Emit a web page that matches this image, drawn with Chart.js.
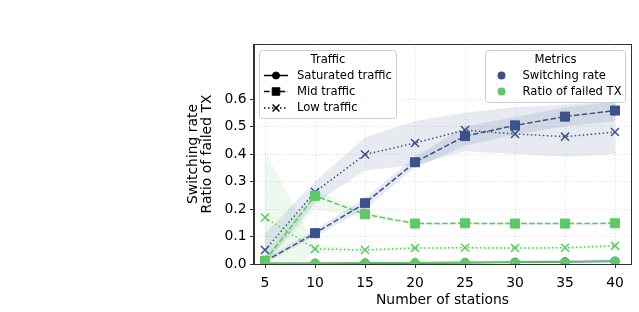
<!DOCTYPE html>
<html><head><meta charset="utf-8">
<script src="https://cdn.jsdelivr.net/npm/chart.js@4/dist/chart.umd.min.js"></script>
<style>html,body{margin:0;padding:0;background:#fff}#wrap{width:639px;height:312px;position:relative}</style>
</head><body><div id="wrap"><canvas id="c" width="639" height="312"></canvas></div>
<script>
// ---- data ----
const stations = [5, 10, 15, 20, 25, 30, 35, 40];
const xTicks = [5, 10, 15, 20, 25, 30, 35, 40];
const yTicks = [0.0, 0.1, 0.2, 0.3, 0.4, 0.5, 0.6];

// Switching rate (mean)
const satSwitch = [0.002, 0.002, 0.003, 0.004, 0.005, 0.006, 0.008, 0.010];
const midSwitch = [0.010, 0.112, 0.221, 0.370, 0.465, 0.504, 0.536, 0.558];
const lowSwitch = [0.051, 0.262, 0.398, 0.440, 0.487, 0.473, 0.463, 0.480];
// Switching rate (band low / high)
const satSwitchLo = [0.000, 0.000, 0.001, 0.002, 0.002, 0.003, 0.004, 0.005];
const satSwitchHi = [0.005, 0.006, 0.007, 0.009, 0.011, 0.013, 0.015, 0.017];
const midSwitchLo = [0.003, 0.100, 0.200, 0.350, 0.430, 0.470, 0.500, 0.520];
const midSwitchHi = [0.020, 0.125, 0.240, 0.390, 0.500, 0.535, 0.570, 0.590];
const lowSwitchLo = [0.000, 0.220, 0.340, 0.360, 0.410, 0.400, 0.390, 0.400];
const lowSwitchHi = [0.110, 0.300, 0.460, 0.520, 0.550, 0.570, 0.580, 0.590];

// Ratio of failed TX (mean)
const satFailed = [0.003, 0.003, 0.004, 0.005, 0.006, 0.006, 0.007, 0.010];
const midFailed = [0.012, 0.248, 0.181, 0.147, 0.148, 0.147, 0.147, 0.148];
const lowFailed = [0.169, 0.055, 0.051, 0.058, 0.059, 0.058, 0.059, 0.066];
// Ratio of failed TX (band low / high)
const satFailedLo = [0.001, 0.001, 0.002, 0.003, 0.004, 0.004, 0.005, 0.007];
const satFailedHi = [0.005, 0.005, 0.006, 0.007, 0.008, 0.008, 0.009, 0.013];
const midFailedLo = [0.000, 0.200, 0.170, 0.142, 0.143, 0.142, 0.142, 0.143];
const midFailedHi = [0.025, 0.270, 0.190, 0.152, 0.153, 0.152, 0.152, 0.153];
const lowFailedLo = [-0.080, 0.040, 0.045, 0.052, 0.053, 0.052, 0.053, 0.060];
const lowFailedHi = [0.410, 0.068, 0.057, 0.064, 0.065, 0.064, 0.065, 0.072];

const trafficNames = ['Saturated traffic', 'Mid traffic', 'Low traffic'];
const metricNames = ['Switching rate', 'Ratio of failed TX'];

// ---- styles ----
const BLUE = '#3b528b';
const GREEN = '#5ec962';
const BLUE_BAND = 'rgba(59,82,139,0.12)';
const GREEN_BAND = 'rgba(94,201,98,0.11)';
const FONT = 'DejaVu Sans';
const DASH = [5.5, 2.4];
const DOT = [1.5, 2.5];
const styles = [
  {dash: [], point: 'circle', r: 4.2, bw: 1},
  {dash: DASH, point: 'rect', r: 6.4, bw: 1},
  {dash: DOT, point: 'crossRot', r: 5.7, bw: 1.5}
];

const pts = arr => stations.map((x, i) => ({x, y: arr[i]}));

const datasets = [];
function addBand(lo, hi, color) {
  datasets.push({data: pts(lo), borderWidth: 0, pointRadius: 0, fill: false, order: 10, showLine: true, borderColor: 'rgba(0,0,0,0)'});
  datasets.push({data: pts(hi), borderWidth: 0, pointRadius: 0, fill: '-1', backgroundColor: color, order: 10, showLine: true, borderColor: 'rgba(0,0,0,0)'});
}
function addLine(arr, color, st, order) {
  datasets.push({
    data: pts(arr), borderColor: color, backgroundColor: color, borderWidth: 1.5,
    borderDash: st.dash, pointStyle: st.point, pointRadius: st.r,
    pointBorderWidth: st.bw, pointBackgroundColor: color, pointBorderColor: color,
    fill: false, order: order, showLine: true, tension: 0
  });
}
const sw = [[satSwitch, satSwitchLo, satSwitchHi], [midSwitch, midSwitchLo, midSwitchHi], [lowSwitch, lowSwitchLo, lowSwitchHi]];
const fl = [[satFailed, satFailedLo, satFailedHi], [midFailed, midFailedLo, midFailedHi], [lowFailed, lowFailedLo, lowFailedHi]];
for (let k = 0; k < 3; k++) { addBand(sw[k][1], sw[k][2], BLUE_BAND); }
for (let k = 0; k < 3; k++) { addBand(fl[k][1], fl[k][2], GREEN_BAND); }
for (let k = 0; k < 3; k++) { addLine(sw[k][0], BLUE, styles[k], 5); }
for (let k = 0; k < 3; k++) { addLine(fl[k][0], GREEN, styles[k], 1); }

// ---- plugins ----
const framePlugin = {
  id: 'frame',
  afterDatasetsDraw(chart) {
    const {ctx, chartArea: a} = chart;
    ctx.save();
    ctx.strokeStyle = '#333';
    ctx.lineWidth = 1;
    ctx.strokeRect(a.left - 0.5, a.top + 0.5, a.right - a.left + 1, a.bottom - a.top);
    ctx.restore();
  }
};

function roundRect(ctx, x, y, w, h, r) {
  ctx.beginPath();
  ctx.moveTo(x + r, y);
  ctx.lineTo(x + w - r, y); ctx.quadraticCurveTo(x + w, y, x + w, y + r);
  ctx.lineTo(x + w, y + h - r); ctx.quadraticCurveTo(x + w, y + h, x + w - r, y + h);
  ctx.lineTo(x + r, y + h); ctx.quadraticCurveTo(x, y + h, x, y + h - r);
  ctx.lineTo(x, y + r); ctx.quadraticCurveTo(x, y, x + r, y);
  ctx.closePath();
}
function drawMarker(ctx, style, x, y) {
  ctx.lineWidth = style.point === 'crossRot' ? 1.5 : 0.8;
  Chart.helpers.drawPoint(ctx, {pointStyle: style.point, radius: style.r * 0.85, borderWidth: ctx.lineWidth, rotation: 0}, x, y);
}
const legendPlugin = {
  id: 'twoLegends',
  afterDraw(chart) {
    const {ctx, chartArea: a} = chart;
    ctx.save();
    const fs = 11.6;
    ctx.font = fs + 'px "' + FONT + '"';
    ctx.textBaseline = 'middle';
    // Traffic legend
    let bx = a.left + 5.5, by = a.top + 6.5, bw = 137, bh = 68;
    roundRect(ctx, bx, by, bw, bh, 3);
    ctx.fillStyle = 'rgba(255,255,255,0.8)'; ctx.fill();
    ctx.strokeStyle = '#cccccc'; ctx.lineWidth = 1; ctx.stroke();
    ctx.fillStyle = '#000'; ctx.textAlign = 'center';
    ctx.fillText('Traffic', bx + bw / 2, by + 9);
    ctx.textAlign = 'left';
    const rows = [by + 25, by + 41, by + 57.5];
    for (let k = 0; k < 3; k++) {
      const y = rows[k];
      ctx.strokeStyle = '#000'; ctx.fillStyle = '#000'; ctx.lineWidth = 1.5;
      ctx.setLineDash(styles[k].dash);
      ctx.beginPath(); ctx.moveTo(bx + 4.5, y); ctx.lineTo(bx + 28.5, y); ctx.stroke();
      ctx.setLineDash([]);
      drawMarker(ctx, styles[k], bx + 16.5, y);
      ctx.fillStyle = '#000';
      ctx.fillText(trafficNames[k], bx + 37.5, y);
    }
    // Metrics legend
    bw = 140; bh = 52; bx = a.right - 5.5 - bw; by = a.top + 6.5;
    roundRect(ctx, bx, by, bw, bh, 3);
    ctx.fillStyle = 'rgba(255,255,255,0.8)'; ctx.fill();
    ctx.strokeStyle = '#cccccc'; ctx.lineWidth = 1; ctx.stroke();
    ctx.fillStyle = '#000'; ctx.textAlign = 'center';
    ctx.fillText('Metrics', bx + bw / 2, by + 9);
    ctx.textAlign = 'left';
    const cols = [BLUE, GREEN];
    for (let k = 0; k < 2; k++) {
      const y = by + 25 + 16 * k;
      ctx.fillStyle = cols[k];
      ctx.beginPath(); ctx.arc(bx + 16, y, 4, 0, Math.PI * 2); ctx.fill();
      ctx.fillStyle = '#000';
      ctx.fillText(metricNames[k], bx + 37, y);
    }
    ctx.restore();
  }
};

new Chart(document.getElementById('c'), {
  type: 'scatter',
  data: {datasets},
  options: {
    responsive: false,
    animation: false,
    devicePixelRatio: 1,
    layout: {padding: {left: 186, top: 44, right: 8, bottom: 4}},
    plugins: {legend: {display: false}, tooltip: {enabled: false}},
    elements: {line: {tension: 0}},
    scales: {
      x: {
        type: 'linear', min: 3.9, max: 41.6,
        afterBuildTicks: s => { s.ticks = xTicks.map(v => ({value: v})); },
        afterFit: s => { s.height = 44; },
        grid: {color: '#d9d9d9', lineWidth: 0.8, tickLength: 4, tickColor: '#333', tickWidth: 1, tickBorderDash: []},
        border: {display: true, color: '#333', width: 1, dash: [1, 2]},
        ticks: {color: '#000', font: {family: FONT, size: 13.9}, padding: 7, maxRotation: 0, autoSkip: false,
                callback: v => String(v)},
        title: {display: true, text: 'Number of stations', color: '#000', font: {family: FONT, size: 13.9, lineHeight: 1.04}, padding: {top: 0, bottom: 0}}
      },
      y: {
        type: 'linear', min: 0, max: 0.8,
        afterBuildTicks: s => { s.ticks = yTicks.map(v => ({value: v})); },
        afterFit: s => { s.width = 68; },
        grid: {color: '#d9d9d9', lineWidth: 0.8, tickLength: 4, tickColor: '#333', tickWidth: 1, tickBorderDash: []},
        border: {display: true, color: '#333', width: 1, dash: [1, 2]},
        ticks: {color: '#000', font: {family: FONT, size: 13.9}, padding: 3.5, autoSkip: false,
                callback: v => v.toFixed(1)},
        title: {display: true, text: ['Switching rate', 'Ratio of failed TX'], color: '#000', font: {family: FONT, size: 13.9, lineHeight: 1.04}, padding: {top: 0, bottom: 0}}
      }
    }
  },
  plugins: [framePlugin, legendPlugin]
});
</script></body></html>
